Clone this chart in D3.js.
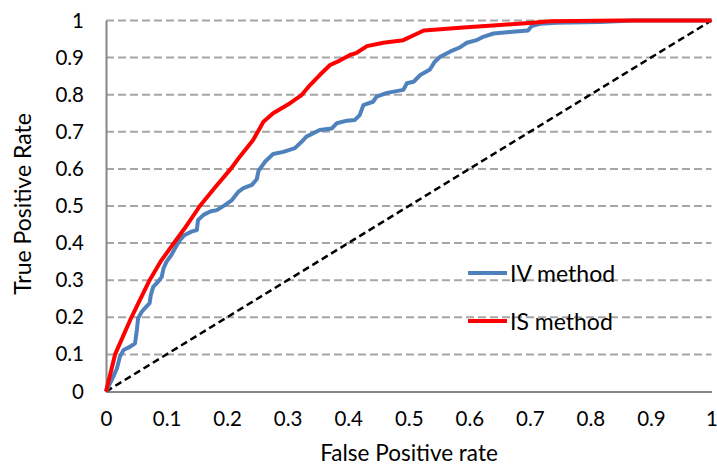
<!DOCTYPE html>
<html><head><meta charset="utf-8">
<script src="https://cdn.jsdelivr.net/npm/d3@7"></script>
<style>body{margin:0;background:#fff}svg{display:block}</style>
</head><body>
<svg id="c" width="717" height="466"></svg>
<script>
const xTicks = [0,0.1,0.2,0.3,0.4,0.5,0.6,0.7,0.8,0.9,1];
const yTicks = [0,0.1,0.2,0.3,0.4,0.5,0.6,0.7,0.8,0.9,1];
const diagonal = [[0,0],[1,1]];
const ivMethod = [[0,0],[0.012,0.040],[0.018,0.062],[0.023,0.094],[0.029,0.112],[0.040,0.121],[0.048,0.130],[0.051,0.166],[0.053,0.197],[0.059,0.215],[0.064,0.224],[0.072,0.238],[0.074,0.260],[0.078,0.282],[0.086,0.296],[0.092,0.309],[0.095,0.332],[0.100,0.350],[0.108,0.368],[0.114,0.386],[0.122,0.408],[0.130,0.422],[0.141,0.431],[0.150,0.435],[0.152,0.462],[0.161,0.476],[0.172,0.485],[0.183,0.489],[0.197,0.503],[0.208,0.516],[0.219,0.539],[0.227,0.548],[0.241,0.557],[0.249,0.572],[0.252,0.595],[0.263,0.620],[0.276,0.640],[0.293,0.646],[0.312,0.656],[0.323,0.673],[0.331,0.687],[0.353,0.705],[0.373,0.709],[0.381,0.723],[0.398,0.730],[0.411,0.732],[0.419,0.745],[0.425,0.772],[0.441,0.781],[0.447,0.795],[0.464,0.805],[0.491,0.813],[0.497,0.831],[0.508,0.835],[0.519,0.853],[0.535,0.868],[0.543,0.889],[0.552,0.902],[0.568,0.916],[0.585,0.928],[0.596,0.940],[0.612,0.947],[0.623,0.956],[0.640,0.965],[0.667,0.969],[0.697,0.973],[0.703,0.985],[0.717,0.991],[0.744,0.994],[0.816,0.996],[0.870,1],[1,1]];
const isMethod = [[0,0],[0.015,0.1],[0.042,0.2],[0.072,0.3],[0.09,0.35],[0.112,0.4],[0.13,0.44],[0.155,0.5],[0.18,0.55],[0.206,0.6],[0.221,0.633],[0.243,0.678],[0.260,0.727],[0.276,0.75],[0.304,0.777],[0.323,0.799],[0.337,0.826],[0.353,0.853],[0.370,0.880],[0.386,0.892],[0.403,0.907],[0.414,0.913],[0.431,0.931],[0.458,0.940],[0.491,0.947],[0.509,0.961],[0.525,0.973],[0.596,0.982],[0.651,0.988],[0.705,0.994],[0.733,0.998],[0.85,1],[1,1]];
const seriesNames = ["IV method","IS method"];
const seriesColors = ["#4f81bd","#ff0000"];

const svg = d3.select("#c");
const font = "Lato, 'Open Sans', sans-serif";
const x = d3.scaleLinear().domain([0,1]).range([106,711.5]);
const y = d3.scaleLinear().domain([0,1]).range([391.5,20.5]);

// gridlines
svg.append("g").selectAll("line").data(yTicks.filter(d=>d>0)).join("line")
  .attr("x1",x(0)).attr("x2",x(1)).attr("y1",d=>y(d)).attr("y2",d=>y(d))
  .attr("stroke","#a6a6a6").attr("stroke-width",2).attr("stroke-dasharray","8,4");

// axes
const xAxis = svg.append("g").attr("transform",`translate(0,${y(0)})`)
  .call(d3.axisBottom(x).tickValues(xTicks).tickSize(0).tickPadding(20).tickFormat(d3.format("~g")));
const yAxis = svg.append("g").attr("transform",`translate(${x(0)},0)`)
  .call(d3.axisLeft(y).tickValues(yTicks).tickSize(0).tickPadding(22).tickFormat(d3.format("~g")));
[xAxis,yAxis].forEach(a=>{
  a.select(".domain").attr("stroke","#868686").attr("stroke-width",2);
  a.selectAll("text").attr("font-family",font).attr("font-size",20.5).attr("fill","#000");
});
xAxis.selectAll("text").attr("dy","0.32em").attr("y",28);

// axis titles
svg.append("text").attr("x",409).attr("y",452).attr("text-anchor","middle").attr("dominant-baseline","central")
  .attr("font-family",font).attr("font-size",22.5).text("False Positive rate");
svg.append("text").attr("transform","translate(22,204) rotate(-90)").attr("text-anchor","middle").attr("dominant-baseline","central")
  .attr("font-family",font).attr("font-size",23).text("True Positive Rate");

const line = d3.line().x(d=>x(d[0])).y(d=>y(d[1]));
svg.append("path").datum(diagonal).attr("d",line).attr("fill","none")
  .attr("stroke","#000").attr("stroke-width",2.5).attr("stroke-dasharray","7,4");
[ivMethod,isMethod].forEach((s,i)=>{
  svg.append("path").datum(s).attr("d",line).attr("fill","none")
    .attr("stroke",seriesColors[i]).attr("stroke-width",4).attr("stroke-linejoin","round");
});

// legend
const legY = [273,321];
seriesNames.forEach((n,i)=>{
  svg.append("line").attr("x1",468).attr("x2",507).attr("y1",legY[i]).attr("y2",legY[i])
    .attr("stroke",seriesColors[i]).attr("stroke-width",4);
  svg.append("text").attr("x",510).attr("y",legY[i]).attr("dominant-baseline","central")
    .attr("font-family",font).attr("font-size",23).text(n);
});
</script>
</body></html>
